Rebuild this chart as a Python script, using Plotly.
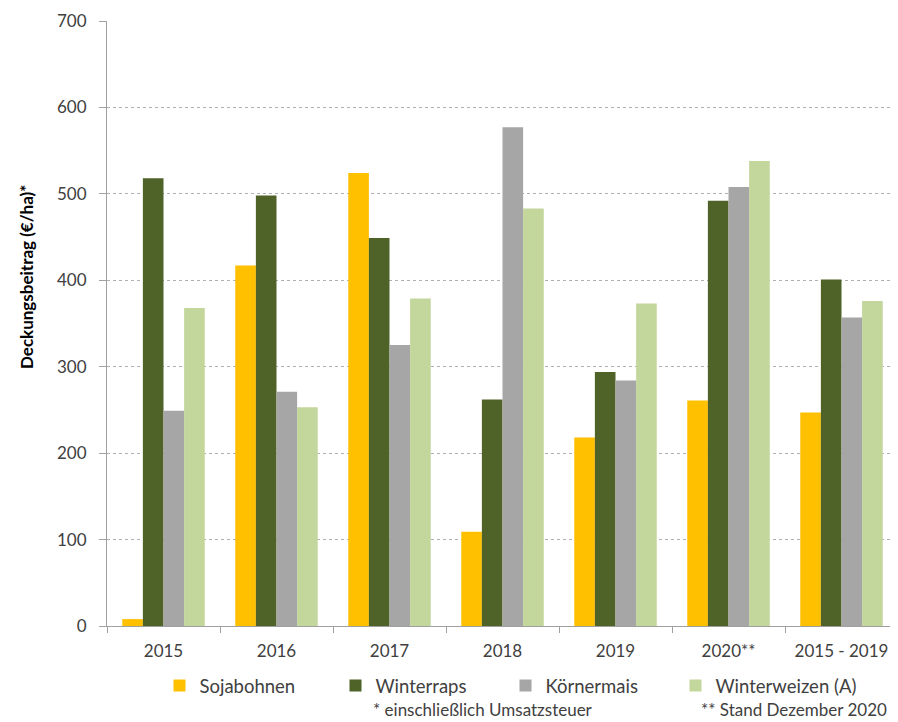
import plotly.graph_objects as go

categories = ["2015", "2016", "2017", "2018", "2019", "2020**", "2015 - 2019"]
sojabohnen = [8, 417, 524, 109, 218, 261, 247]
winterraps = [518, 498, 449, 262, 294, 492, 401]
koernermais = [249, 271, 325, 577, 284, 508, 357]
winterweizen = [368, 253, 379, 483, 373, 538, 376]

series = [
    ("Sojabohnen", sojabohnen, "#FFC000"),
    ("Winterraps", winterraps, "#4F6228"),
    ("Körnermais", koernermais, "#A6A6A6"),
    ("Winterweizen (A)", winterweizen, "#C3D69B"),
]

font_family = "Lato, 'Open Sans', sans-serif"
OFF = 8  # page body margin
FW, FH = 898 - OFF, 722 - OFF
L, T, W, H = 107 - OFF, 21 - OFF, 791, 605


def px(xs):
    return (xs - OFF - L) / W


def py(ys):
    return (T + H - (ys - OFF)) / H


legend_names = ["legend", "legend2", "legend3", "legend4"]
legend_square_centers = [182.5, 358.5, 528.5, 698.5]

fig = go.Figure()
for (name, vals, color), lg in zip(series, legend_names):
    fig.add_trace(go.Bar(x=categories, y=vals, name=name, legend=lg,
                         marker=dict(color=color, line=dict(width=0))))

legend_common = dict(orientation="h", xanchor="left", yanchor="middle",
                     font=dict(size=18.5, color="#404040"), itemwidth=30,
                     bgcolor="rgba(0,0,0,0)")

layout_legends = {}
for lg, cx in zip(legend_names, legend_square_centers):
    layout_legends[lg] = dict(legend_common, x=px(cx - 4 - 19), y=py(686))

fig.update_layout(
    width=FW, height=FH,
    margin=dict(l=L, r=FW - L - W, t=T, b=FH - T - H, autoexpand=False),
    paper_bgcolor="white", plot_bgcolor="white",
    barmode="group", bargap=0.27, bargroupgap=0,
    font=dict(family=font_family, size=17, color="#404040"),
    showlegend=True,
    xaxis=dict(type="category", showline=True, linecolor="#A0A0A0", linewidth=1,
               ticks="outside", tickson="boundaries", ticklen=6, tickcolor="#A0A0A0",
               ticklabelstandoff=10,
               tickfont=dict(size=17, color="#404040"), showgrid=False),
    yaxis=dict(range=[0, 700], dtick=100, showline=True, linecolor="#A0A0A0", linewidth=1,
               ticks="outside", ticklen=7, tickcolor="#A0A0A0",
               ticklabelstandoff=9,
               gridcolor="#B0B0B0", griddash="dot", gridwidth=1,
               tickfont=dict(size=17, color="#404040"),
               zeroline=False),
    **layout_legends,
)

fig.add_annotation(text="<b>Deckungsbeitrag (€/ha)*</b>", xref="paper", yref="paper",
                   x=px(26), y=py(277), textangle=-90,
                   xanchor="center", yanchor="middle", showarrow=False,
                   font=dict(size=17, color="#000000"))
fig.add_annotation(text="* einschließlich Umsatzsteuer", xref="paper", yref="paper",
                   x=px(372), y=py(721), xanchor="left", yanchor="bottom",
                   showarrow=False, borderpad=0, font=dict(size=17, color="#404040"))
fig.add_annotation(text="** Stand Dezember 2020", xref="paper", yref="paper",
                   x=px(700), y=py(721), xanchor="left", yanchor="bottom",
                   showarrow=False, borderpad=0, font=dict(size=17, color="#404040"))

fig.write_html("out.html")
